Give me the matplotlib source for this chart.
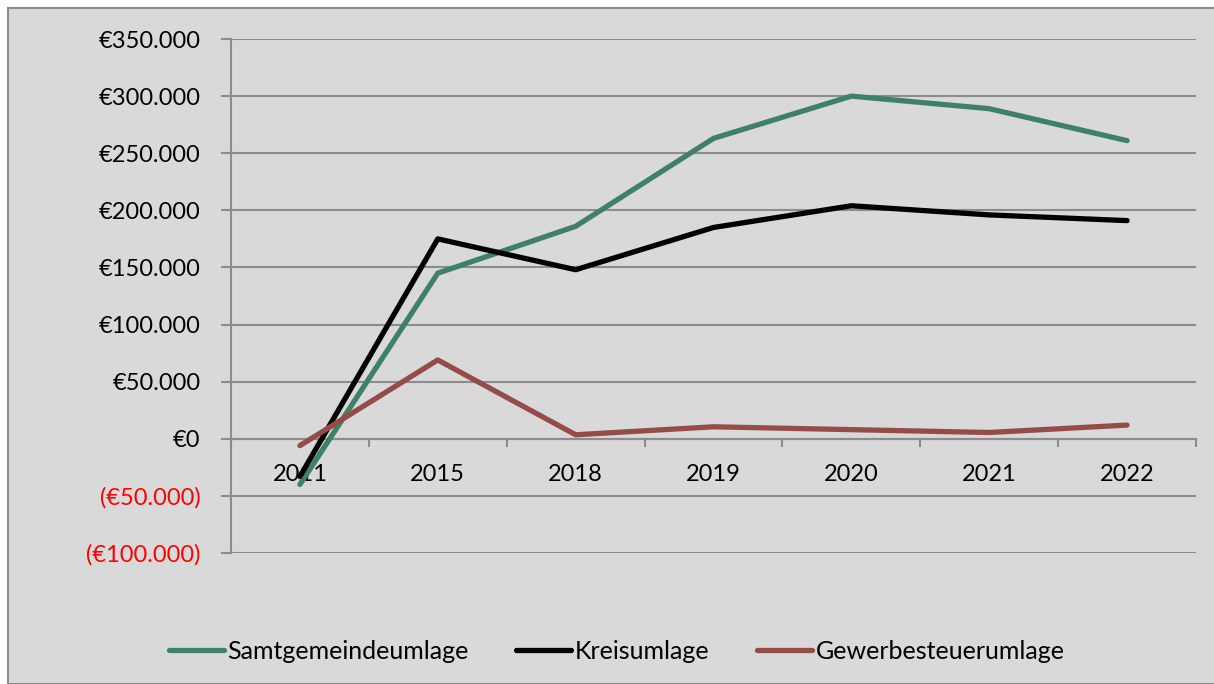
import matplotlib
matplotlib.use("Agg")
import matplotlib.pyplot as plt
from matplotlib.patches import Rectangle
from matplotlib.ticker import FixedLocator, FuncFormatter

plt.rcParams['font.family'] = ['Lato', 'DejaVu Sans']

years = ["2011", "2015", "2018", "2019", "2020", "2021", "2022"]
samtgemeinde = [-40000, 145000, 186000, 263000, 300000, 289000, 261000]
kreis = [-33000, 175000, 148000, 185000, 204000, 196000, 191000]
gewerbe = [-6000, 69000, 3500, 10500, 8000, 5500, 12000]

fig = plt.figure(figsize=(12.14, 6.84), dpi=100)
fig.patch.set_facecolor("white")
bg = Rectangle((8 / 1214, 0), 1.0, 1 - 8 / 684, transform=fig.transFigure,
               facecolor="#d9d9d9", edgecolor="#8c8c8c", linewidth=1.5, zorder=-5)
fig.add_artist(bg)

ax = fig.add_axes([231 / 1214, 1 - 553 / 684, (1196 - 231) / 1214, (553 - 39) / 684])
ax.set_facecolor("none")

x = range(len(years))
ax.plot(x, samtgemeinde, color="#3f8068", lw=3.8, solid_capstyle="round", label="Samtgemeindeumlage", zorder=3)
ax.plot(x, kreis, color="black", lw=3.8, solid_capstyle="round", label="Kreisumlage", zorder=3)
ax.plot(x, gewerbe, color="#954b48", lw=3.8, solid_capstyle="round", label="Gewerbesteuerumlage", zorder=3)

ax.set_xlim(-0.5, len(years) - 0.5)
ax.set_ylim(-100000, 350000)
ax.set_yticks(range(-100000, 350001, 50000))


def euro(v, pos):
    s = "€{:,.0f}".format(abs(v)).replace(",", ".")
    return "({})".format(s) if v < 0 else s


ax.yaxis.set_major_formatter(FuncFormatter(euro))
ax.grid(axis="y", color="#8c8c8c", lw=1.5)
ax.set_axisbelow(True)
for lab in ax.get_yticklabels():
    if lab.get_text().startswith("("):
        lab.set_color("red")

ax.set_xticks(list(x))
ax.set_xticklabels(years)
# category boundaries
ax.xaxis.set_minor_locator(FixedLocator([i - 0.5 for i in range(len(years) + 1)]))
ax.tick_params(axis="x", which="major", length=0, pad=18, labelsize=17)
ax.tick_params(axis="x", which="minor", length=5.5, width=1.5, color="#8c8c8c", direction="out")
ax.tick_params(axis="y", length=7, width=1.5, color="#8c8c8c", labelsize=17, pad=15)

ax.spines["top"].set_visible(False)
ax.spines["right"].set_visible(False)
ax.spines["bottom"].set_position(("data", 0))
ax.spines["bottom"].set_color("#8c8c8c")
ax.spines["bottom"].set_linewidth(1.5)
ax.spines["left"].set_color("#8c8c8c")
ax.spines["left"].set_linewidth(1.5)

fig.legend(loc="center", bbox_to_anchor=(0.508, 0.048), ncol=3, frameon=False,
           fontsize=18, handlelength=2.2, columnspacing=1.9, handletextpad=0.15)

fig.savefig("out.png", dpi=100)
